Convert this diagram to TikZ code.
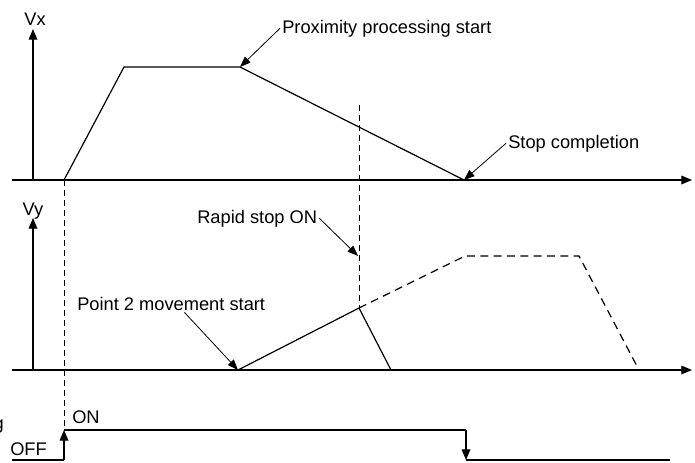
\documentclass[tikz,border=0pt]{standalone}
\usepackage{fontspec}
\setmainfont{Liberation Sans}
\usetikzlibrary{arrows.meta}

\begin{document}
\begin{tikzpicture}[x=0.75pt, y=-0.75pt, font=\fontsize{13.7}{16}\selectfont,
    os/.style={-{Triangle[length=8pt,width=6.5pt]}, line width=0.9pt},
    krivulja/.style={line width=0.9pt},
    crtkano/.style={line width=0.6pt, dash pattern=on 4.5pt off 3pt},
    crtkanoV/.style={line width=0.9pt, dash pattern=on 6pt off 4pt},
    strelica/.style={-{Triangle[length=8pt,width=6pt]}, line width=0.6pt},
    oznaka/.style={inner sep=1.5pt, anchor=base west}]

\useasboundingbox (0,0) rectangle (695,462);

%prva razina slike: brzina Vx
\node (vx) [anchor=base] at (35,25) {Vx};
\draw[os] (33,180) -- (33,29);
\draw[os] (12,180) -- (692,180);

\coordinate (a0) at (64,180);
\coordinate (a1) at (124,67);
\coordinate (a2) at (240,67);
\coordinate (a3) at (464,180);
\draw[krivulja] (a0) -- (a1) -- (a2) -- (a3);

\node (prox) [oznaka] at (280,33) {Proximity processing start};
\node (stop) [oznaka] at (506,148) {Stop completion};
\draw[strelica] (prox.west) -- (a2);
\draw[strelica] (stop.west) -- (a3);

%druga razina slike: brzina Vy
\node (vy) [anchor=base] at (33,215) {Vy};
\draw[os] (33,370) -- (33,218);
\draw[os] (12,370) -- (692,370);

\coordinate (b0) at (238,370);
\coordinate (b1) at (359,308);
\coordinate (b2) at (391,370);
\coordinate (b3) at (465,256);
\coordinate (b4) at (579,256);
\coordinate (b5) at (639,370);
\draw[krivulja] (b0) -- (b1) -- (b2);
\draw[crtkanoV] (b1) -- (b3) -- (b4) -- (b5);

\coordinate (rs) at (358,256);
\node (rapid) [oznaka] at (195,223) {Rapid stop ON};
\node (p2) [oznaka] at (75,310) {Point 2 movement start};
\draw[strelica] (rapid.east) -- (rs);
\draw[strelica] ([xshift=10pt]p2.south) -- (b0);

%isprekidane okomite linije
\draw[crtkano] (a0) -- (64,426);
\draw[crtkano] (359,105) -- (b1);

%treća razina slike: signal
\node (sig) [inner sep=0pt, anchor=base east] at (4,429) {g};
\node (on) [oznaka] at (70,423) {ON};
\node (off) [oznaka] at (8,455) {OFF};
\draw[krivulja] (12,460) -- (64,460);
\draw[os] (64,460) -- (64,430);
\draw[krivulja] (64,430) -- (466,430);
\draw[os] (466,430) -- (466,460);
\draw[krivulja] (466,460) -- (670,460);

\end{tikzpicture}
\end{document}
